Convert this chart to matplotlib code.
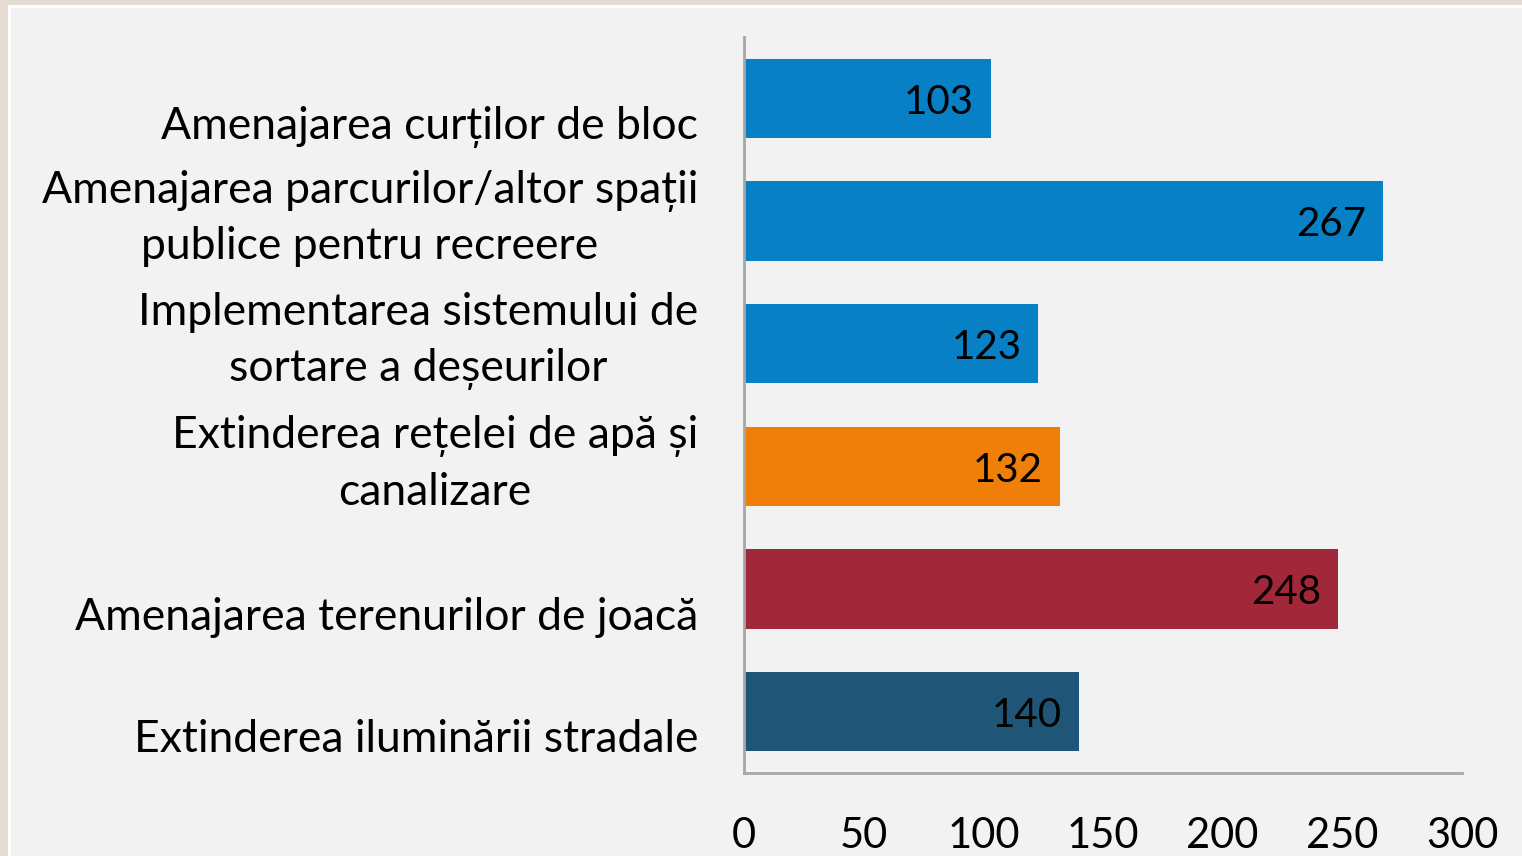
import matplotlib
matplotlib.use("Agg")
import matplotlib.pyplot as plt
from matplotlib.patches import Rectangle
from matplotlib.transforms import blended_transform_factory

categories = [
    "Amenajarea curților de bloc",
    "Amenajarea parcurilor/altor spații\npublice pentru recreere",
    "Implementarea sistemului de\nsortare a deșeurilor",
    "Extinderea rețelei de apă și\ncanalizare",
    "Amenajarea terenurilor de joacă",
    "Extinderea iluminării stradale",
]
values = [103, 267, 123, 132, 248, 140]
colors = ["#0780c5", "#0780c5", "#0780c5", "#f07f09", "#a12838", "#1f5577"]
xticks = [0, 50, 100, 150, 200, 250, 300]

FONT = ["Lato", "DejaVu Sans"]
W, H = 1522, 856
fig = plt.figure(figsize=(W / 100, H / 100), dpi=100)
fig.patch.set_facecolor("#e4dcd1")

# background frame
bg = fig.add_axes([0, 0, 1, 1], zorder=-5)
bg.set_xlim(0, W)
bg.set_ylim(H, 0)
bg.axis("off")
bg.add_patch(Rectangle((8, 5), W - 8, H - 5, facecolor="white", edgecolor="none"))
bg.add_patch(Rectangle((11, 8), W - 11, H - 8, facecolor="#f2f2f2", edgecolor="none"))

left, right, top, bottom = 744, 1462, 37, 773
ax = fig.add_axes([left / W, 1 - bottom / H, (right - left) / W, (bottom - top) / H], zorder=1)
ax.set_facecolor("none")

y = list(range(len(categories)))
ax.barh(y, values, height=0.645, color=colors, zorder=2)
ax.set_ylim(len(categories) - 0.5, -0.5)
ax.set_xlim(0, 300)

for spine in ["top", "right"]:
    ax.spines[spine].set_visible(False)
for spine in ["left", "bottom"]:
    ax.spines[spine].set_color("#a6a6a6")
    ax.spines[spine].set_linewidth(2)

ax.set_xticks(xticks)
ax.set_xticklabels([str(t) for t in xticks], fontsize=30, family=FONT, color="black")
ax.tick_params(axis="x", length=0, pad=32)
ax.set_yticks([])

for yi, v in zip(y, values):
    ax.text(v - 7, yi + 0.03, str(v), ha="right", va="center", fontsize=29,
            family=FONT, color="black", zorder=3)

trans = blended_transform_factory(ax.transAxes, ax.transData)
for yi, cat in zip(y, categories):
    off = 0.0 if "\n" in cat else 0.25
    ax.text(-46 / (right - left), yi + off - 0.02, cat, transform=trans, ha="right",
            va="center", multialignment="center", fontsize=32, family=FONT,
            color="black", linespacing=1.45)

fig.savefig("out.png", dpi=100, facecolor=fig.get_facecolor())
